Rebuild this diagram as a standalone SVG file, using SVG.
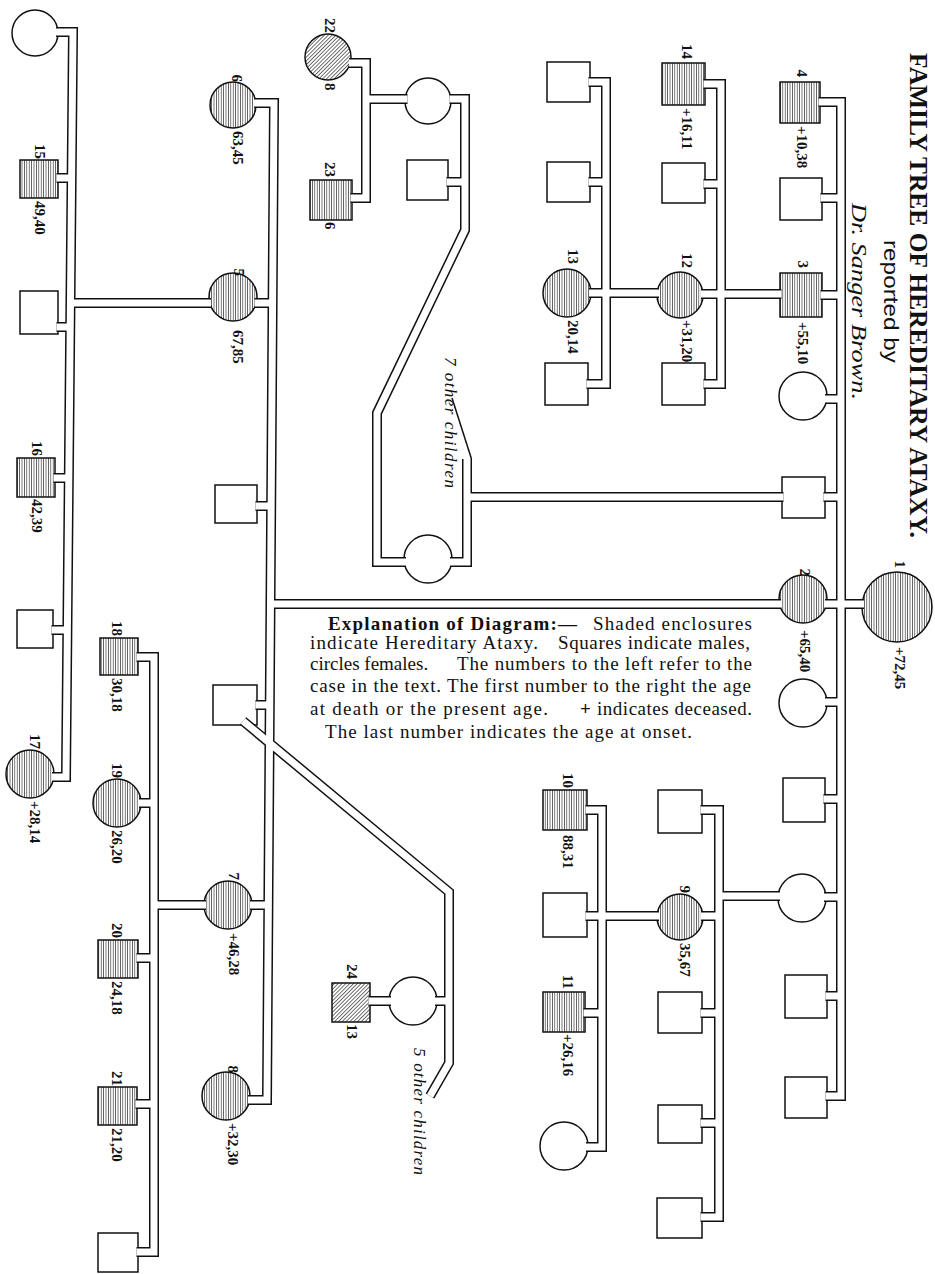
<svg xmlns="http://www.w3.org/2000/svg" width="935" height="1274" viewBox="0 0 935 1274">
<style>
.k{fill:none;stroke:#111;stroke-width:10;stroke-linejoin:miter;stroke-linecap:butt}
.w{fill:none;stroke:#fff;stroke-width:7;stroke-linejoin:miter;stroke-linecap:butt}
.nd{fill:#fff;stroke:#111;stroke-width:1.5}
.sh{fill:url(#vh);stroke:#111;stroke-width:1.5}
.dh{fill:url(#dh);stroke:#111;stroke-width:1.5}
.lb{font-family:"Liberation Serif",serif;font-weight:bold;font-size:15px;fill:#111}
.ex{font-family:"Liberation Serif",serif;font-size:19px;fill:#111}
.exb{font-family:"Liberation Serif",serif;font-size:19px;font-weight:bold;fill:#111}
.it{font-family:"Liberation Serif",serif;font-style:italic;fill:#111}
</style>
<defs>
<pattern id="vh" patternUnits="userSpaceOnUse" width="2.4" height="4"><rect x="0" y="0" width="0.7" height="4" fill="#333"/></pattern>
<pattern id="dh" patternUnits="userSpaceOnUse" width="2.7" height="4" patternTransform="rotate(45)"><rect x="0" y="0" width="0.7" height="4" fill="#333"/></pattern>
<path id="net" d="M818.5 102H841V1096H825.5 M820.5 198H841 M820.5 295H841 M825 399H841 M823.5 497H841 M825 604H864 M825 702H841 M823.5 799H841 M824 897H841 M825.5 996H841 M781.5 294H701 M783.5 497H467 M781 604H270.5 M780 896H719 M703.5 84H721V384H703.5 M703.5 184H721 M588.5 82H606V384H586.5 M588.5 182H606 M589 293H659 M254 103H274L267 1100H248 M254.5 303H272.6 M255.5 506H271.2 M255.5 705H269.8 M250 905H268.4 M211 303H70.5 M206 905H154 M56 32H73L66 777H52 M56.5 178H71.6 M56.5 327H70.2 M53.5 478H68.8 M51.5 630H67.4 M136.5 657H154V1252H136.5 M139 803H154 M136.5 958H154 M135.5 1104H154 M700.5 810H719V1217H700.5 M701 916H719 M700.5 1013H719 M700.5 1123H719 M659 916H585.5 M585.5 810H602V1147H586 M583.5 1013H602 M467 459V562H450 M406 562H377V413L465 230V99H449.5 M446.5 182H465 M407.5 99H366 M349 63H366V198H350.5 M243 721L449 892V1063L430 1096 M435 1001H449 M391 1001H368.5"/>
</defs>
<rect x="0" y="0" width="935" height="1274" fill="#fff"/>

<g id="title">
<text transform="translate(910,53) rotate(90)" font-family="Liberation Serif, serif" font-weight="bold" font-size="25" fill="#111" textLength="485" lengthAdjust="spacingAndGlyphs">FAMILY TREE OF HEREDITARY ATAXY.</text>
<text transform="translate(884,240) rotate(90)" font-family="Liberation Sans, sans-serif" font-size="21" fill="#111" textLength="123" lengthAdjust="spacingAndGlyphs">reported by</text>
<text class="it" transform="translate(852,203) rotate(90)" font-size="21" textLength="197" lengthAdjust="spacingAndGlyphs">Dr. Sanger Brown.</text>
</g>

<g id="explanation">
<text class="exb" x="328" y="630" textLength="249" lengthAdjust="spacing">Explanation of Diagram:—</text>
<text class="ex" x="593" y="630" textLength="159" lengthAdjust="spacing">Shaded enclosures</text>
<text class="ex" x="310" y="649" textLength="228" lengthAdjust="spacing">indicate Hereditary Ataxy.</text>
<text class="ex" x="558" y="649" textLength="192" lengthAdjust="spacing">Squares indicate males,</text>
<text class="ex" x="310" y="670" font-size="18">circles females.</text>
<text class="ex" x="457" y="670" textLength="295" lengthAdjust="spacing">The numbers to the left refer to the</text>
<text class="ex" x="310" y="692" textLength="441" lengthAdjust="spacing">case in the text. The first number to the right  the age</text>
<text class="ex" x="310" y="715" textLength="238" lengthAdjust="spacing">at death or the present age.</text>
<text class="exb" x="580" y="715">+</text>
<text class="ex" x="597" y="715" textLength="155" lengthAdjust="spacing">indicates deceased.</text>
<text class="ex" x="325" y="738" textLength="367" lengthAdjust="spacing">The last number indicates the age at onset.</text>
</g>

<g id="nodes">
<g id="n1"><circle class="sh" cx="897" cy="607" r="35"/><text class="lb" transform="translate(895,568) rotate(90)" text-anchor="end">1</text><text class="lb" transform="translate(895,647) rotate(90)">+72,45</text></g>
<g id="n2"><circle class="sh" cx="803" cy="599" r="24"/><text class="lb" transform="translate(800,576) rotate(90)" text-anchor="end">2</text><text class="lb" transform="translate(800,630) rotate(90)">+65,40</text></g>
<g id="n3"><rect class="sh" x="780" y="273" width="42" height="44"/><text class="lb" transform="translate(798,268) rotate(90)" text-anchor="end">3</text><text class="lb" transform="translate(798,322) rotate(90)">+55,10</text></g>
<g id="n4"><rect class="sh" x="780" y="82" width="40" height="41"/><text class="lb" transform="translate(797,77) rotate(90)" text-anchor="end">4</text><text class="lb" transform="translate(797,126) rotate(90)">+10,38</text></g>
<g id="g2-sq-a"><rect class="nd" x="780" y="178" width="42" height="42"/></g>
<g id="g2-ci-b"><circle class="nd" cx="803" cy="396" r="24"/></g>
<g id="g2-sq-c"><rect class="nd" x="782" y="477" width="43" height="41"/></g>
<g id="g2-ci-d"><circle class="nd" cx="803" cy="703" r="24"/></g>
<g id="g2-sq-e"><rect class="nd" x="783" y="778" width="42" height="44"/></g>
<g id="g2-ci-f"><circle class="nd" cx="802" cy="898" r="24"/></g>
<g id="g2-sq-g"><rect class="nd" x="785" y="975" width="42" height="43"/></g>
<g id="g2-sq-h"><rect class="nd" x="785" y="1077" width="42" height="41"/></g>

<g id="n14"><rect class="sh" x="662" y="63" width="43" height="42"/><text class="lb" transform="translate(682,59) rotate(90)" text-anchor="end">14</text><text class="lb" transform="translate(682,108) rotate(90)">+16,11</text></g>
<g id="g3a-sq-b"><rect class="nd" x="662" y="163" width="43" height="40"/></g>
<g id="n12"><circle class="sh" cx="680" cy="295" r="23"/><text class="lb" transform="translate(682,268) rotate(90)" text-anchor="end">12</text><text class="lb" transform="translate(682,320) rotate(90)">+31,20</text></g>
<g id="g3a-sq-d"><rect class="nd" x="662" y="363" width="43" height="42"/></g>

<g id="g4a-sq-a"><rect class="nd" x="547" y="62" width="43" height="40"/></g>
<g id="g4a-sq-b"><rect class="nd" x="547" y="162" width="43" height="40"/></g>
<g id="n13"><circle class="sh" cx="567" cy="293" r="24"/><text class="lb" transform="translate(568,264) rotate(90)" text-anchor="end">13</text><text class="lb" transform="translate(568,320) rotate(90)">20,14</text></g>
<g id="g4a-sq-d"><rect class="nd" x="545" y="363" width="43" height="42"/></g>

<g id="n6"><circle class="sh" cx="233" cy="105" r="23"/><text class="lb" transform="translate(232,82) rotate(90)" text-anchor="end">6</text><text class="lb" transform="translate(233,131) rotate(90)">63,45</text></g>
<g id="n5"><circle class="sh" cx="233" cy="297" r="24"/><text class="lb" transform="translate(234,276) rotate(90)" text-anchor="end">5</text><text class="lb" transform="translate(233,330) rotate(90)">67,85</text></g>
<g id="g3b-sq-c"><rect class="nd" x="215" y="485" width="42" height="38"/></g>
<g id="g3b-sq-d"><rect class="nd" x="213" y="685" width="44" height="40"/></g>
<g id="n7"><circle class="sh" cx="228" cy="905" r="24"/><text class="lb" transform="translate(229,880) rotate(90)" text-anchor="end">7</text><text class="lb" transform="translate(229,933) rotate(90)">+46,28</text></g>
<g id="n8"><circle class="sh" cx="226" cy="1096" r="24"/><text class="lb" transform="translate(228,1073) rotate(90)" text-anchor="end">8</text><text class="lb" transform="translate(228,1123) rotate(90)">+32,30</text></g>

<g id="g4b-ci-a"><circle class="nd" cx="35" cy="33" r="23"/></g>
<g id="n15"><rect class="sh" x="20" y="160" width="38" height="38"/><text class="lb" transform="translate(35,159) rotate(90)" text-anchor="end">15</text><text class="lb" transform="translate(35,201) rotate(90)">49,40</text></g>
<g id="g4b-sq-c"><rect class="nd" x="20" y="291" width="38" height="43"/></g>
<g id="n16"><rect class="sh" x="17" y="458" width="38" height="39"/><text class="lb" transform="translate(32,456) rotate(90)" text-anchor="end">16</text><text class="lb" transform="translate(32,499) rotate(90)">42,39</text></g>
<g id="g4b-sq-e"><rect class="nd" x="17" y="610" width="36" height="38"/></g>
<g id="n17"><circle class="sh" cx="30" cy="774" r="24"/><text class="lb" transform="translate(30,749) rotate(90)" text-anchor="end">17</text><text class="lb" transform="translate(30,801) rotate(90)">+28,14</text></g>

<g id="n18"><rect class="sh" x="100" y="638" width="38" height="37"/><text class="lb" transform="translate(112,636) rotate(90)" text-anchor="end">18</text><text class="lb" transform="translate(112,678) rotate(90)">30,18</text></g>
<g id="n19"><circle class="sh" cx="117" cy="803" r="24"/><text class="lb" transform="translate(112,778) rotate(90)" text-anchor="end">19</text><text class="lb" transform="translate(112,830) rotate(90)">26,20</text></g>
<g id="n20"><rect class="sh" x="98" y="940" width="40" height="38"/><text class="lb" transform="translate(112,938) rotate(90)" text-anchor="end">20</text><text class="lb" transform="translate(112,981) rotate(90)">24,18</text></g>
<g id="n21"><rect class="sh" x="98" y="1087" width="39" height="38"/><text class="lb" transform="translate(112,1086) rotate(90)" text-anchor="end">21</text><text class="lb" transform="translate(112,1128) rotate(90)">21,20</text></g>
<g id="g4c-sq-f"><rect class="nd" x="98" y="1233" width="40" height="39"/></g>

<g id="g3c-sq-a"><rect class="nd" x="658" y="790" width="44" height="43"/></g>
<g id="n9"><circle class="sh" cx="680" cy="917" r="23"/><text class="lb" transform="translate(680,893) rotate(90)" text-anchor="end">9</text><text class="lb" transform="translate(680,943) rotate(90)">35,67</text></g>
<g id="g3c-sq-c"><rect class="nd" x="658" y="992" width="44" height="41"/></g>
<g id="g3c-sq-d"><rect class="nd" x="658" y="1105" width="44" height="38"/></g>
<g id="g3c-sq-e"><rect class="nd" x="657" y="1198" width="45" height="40"/></g>

<g id="n10"><rect class="sh" x="543" y="790" width="44" height="40"/><text class="lb" transform="translate(563,788) rotate(90)" text-anchor="end">10</text><text class="lb" transform="translate(563,835) rotate(90)">88,31</text></g>
<g id="g4d-sq-b"><rect class="nd" x="543" y="893" width="44" height="44"/></g>
<g id="n11"><rect class="sh" x="543" y="992" width="42" height="40"/><text class="lb" transform="translate(563,989) rotate(90)" text-anchor="end">11</text><text class="lb" transform="translate(563,1034) rotate(90)">+26,16</text></g>
<g id="g4d-ci-d"><circle class="nd" cx="564" cy="1146" r="24"/></g>

<g id="g3d-ci-a"><circle class="nd" cx="428" cy="101" r="23"/></g>
<g id="g3d-sq-b"><rect class="nd" x="407" y="160" width="41" height="40"/></g>
<g id="g3d-ci-c"><circle class="nd" cx="428" cy="559" r="24"/></g>
<g id="n22"><circle class="dh" cx="328" cy="57" r="23"/><text class="lb" transform="translate(325,33) rotate(90)" text-anchor="end">22</text><text class="lb" transform="translate(325,83) rotate(90)">8</text></g>
<g id="n23"><rect class="sh" x="310" y="180" width="42" height="40"/><text class="lb" transform="translate(325,177) rotate(90)" text-anchor="end">23</text><text class="lb" transform="translate(325,222) rotate(90)">6</text></g>
<g id="g3e-ci-a"><circle class="nd" cx="413" cy="1001" r="24"/></g>
<g id="n24"><rect class="dh" x="332" y="983" width="38" height="39"/><text class="lb" transform="translate(347,979) rotate(90)" text-anchor="end">24</text><text class="lb" transform="translate(347,1024) rotate(90)">13</text></g>
</g>

<g id="connectors">
<use href="#net" class="k"/>
<use href="#net" class="w"/>
<line x1="471.5" y1="459" x2="452" y2="398" stroke="#111" stroke-width="1.5"/>
</g>

<g id="notes">
<text class="it" transform="translate(445,357) rotate(90)" font-size="17" textLength="131" lengthAdjust="spacing">7 other children</text>
<text class="it" transform="translate(414,1048) rotate(90)" font-size="17" textLength="127" lengthAdjust="spacing">5 other children</text>
</g>
</svg>
